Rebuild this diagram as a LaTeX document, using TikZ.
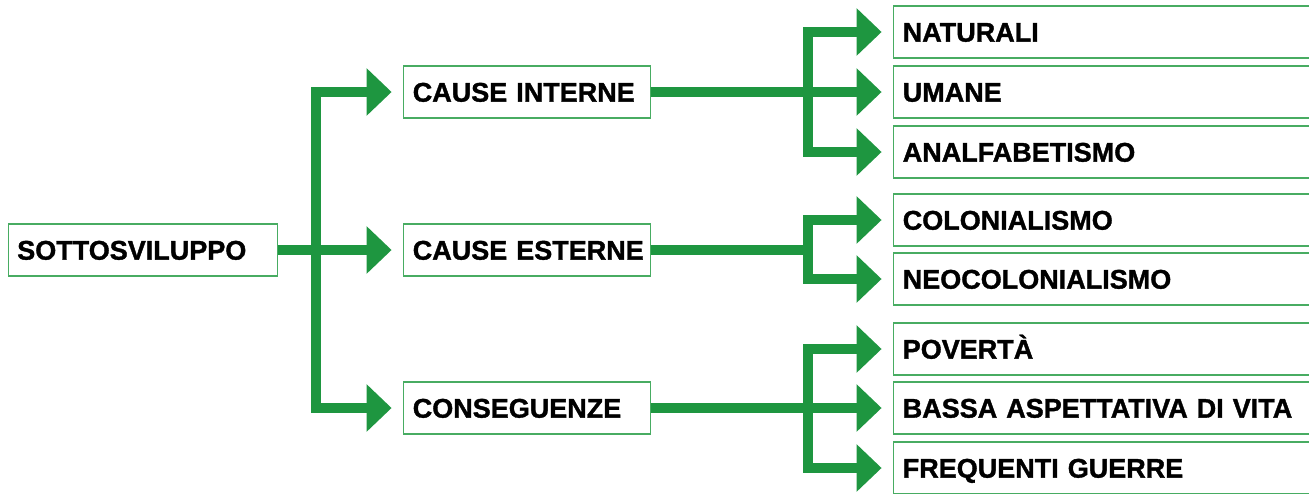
\documentclass[tikz,border=0pt]{standalone}
\usepackage{fontspec}
\setmainfont{Liberation Sans}[BoldFeatures={FakeBold=1.3}]
\usetikzlibrary{arrows.meta,positioning}

\definecolor{arrowgreen}{RGB}{30,150,64}
\definecolor{boxgreen}{RGB}{72,172,98}

\tikzset{
  box/.style={draw=boxgreen, line width=1.3pt, fill=white, anchor=west, align=left,
    inner xsep=9.5pt, inner ysep=0pt, minimum height=52pt, text height=19.3pt, text depth=0pt,
    font=\bfseries\fontsize{27}{27}\selectfont,
    execute at begin node=\hbox\bgroup, execute at end node=\egroup},
  rootbox/.style={box, text width=251pt, inner xsep=9pt},
  midbox/.style={box, text width=228pt},
  leafbox/.style={box, text width=410pt},
  link/.style={draw=arrowgreen, line width=10.5pt},
  flow/.style={link, -{Triangle[width=46pt,length=25pt]}, shorten >=11pt},
}

\begin{document}
\begin{tikzpicture}[x=1pt, y=-1pt]
    \useasboundingbox (0,0) rectangle (1309,493);

    % root and the three groups
    \node[rootbox] (root) at (7.6,250) {SOTTOSVILUPPO};
    \node[midbox] (cint) at (402.6,92) {CAUSE INTERNE};
    \node[midbox] (cest) at (402.6,250) {CAUSE ESTERNE};
    \node[midbox] (cons) at (402.6,408) {CONSEGUENZE};

    % leaves
    \node[leafbox] (nat) at (892.6,32) {NATURALI};
    \node[leafbox] (uma) at (892.6,92) {UMANE};
    \node[leafbox] (ana) at (892.6,152) {ANALFABETISMO};
    \node[leafbox] (col) at (892.6,220) {COLONIALISMO};
    \node[leafbox] (neo) at (892.6,279) {NEOCOLONIALISMO};
    \node[leafbox] (pov) at (892.6,349) {POVERTÀ};
    \node[leafbox] (bas) at (892.6,408) {BASSA ASPETTATIVA DI VITA};
    \node[leafbox] (fre) at (892.6,468) {FREQUENTI GUERRE};

    % trunk
    \coordinate (j0) at (316,250);
    \draw[link] (root.east) -- (j0);
    \foreach \grp in {cint,cest,cons}
        \draw[flow] (j0) |- (\grp.west);

    % branches
    \coordinate (j1) at (808,92);
    \coordinate (j2) at (808,250);
    \coordinate (j3) at (808,408);
    \draw[link] (cint.east) -- (j1);
    \draw[link] (cest.east) -- (j2);
    \draw[link] (cons.east) -- (j3);
    \foreach \leaf in {nat,uma,ana}
        \draw[flow] (j1) |- (\leaf.west);
    \foreach \leaf in {col,neo}
        \draw[flow] (j2) |- (\leaf.west);
    \foreach \leaf in {pov,bas,fre}
        \draw[flow] (j3) |- (\leaf.west);
\end{tikzpicture}
\end{document}
